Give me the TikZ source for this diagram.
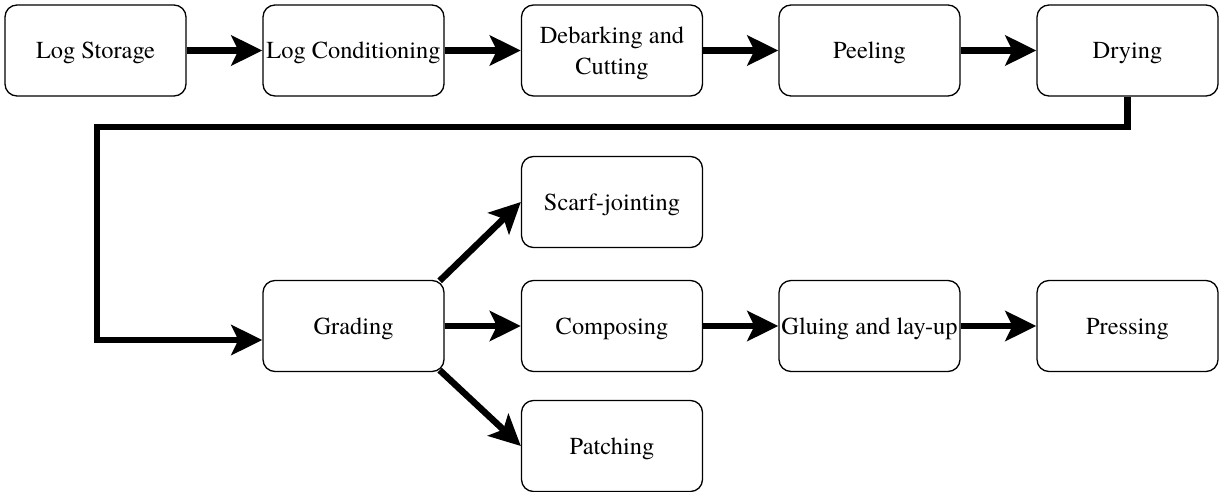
\documentclass[tikz,border=0pt]{standalone}
\usepackage{fontspec}
\newfontfamily\tms{TeX Gyre Termes}
\usetikzlibrary{arrows.meta}
\begin{document}
\begin{tikzpicture}[x=1pt,y=-1pt,
  box/.style={draw, line width=1.3pt, rounded corners=12pt, minimum width=181pt, minimum height=91pt, align=center, font=\tms\fontsize{24.4}{31}\selectfont, inner sep=0pt, text depth=0pt},
  arr/.style={line width=6.5pt, -{Stealth[length=31pt,width=30pt,inset=7pt]}, line join=miter}]
\useasboundingbox (0,0) rectangle (1225,492);
\node[box] (ls) at (95.5,50.5) {Log Storage};
\node[box] (lc) at (353.5,50.5) {Log Conditioning};
\node[box] (deb) at (612,50.5) {Debarking and\\Cutting};
\node[box] (peel) at (869.5,50.5) {Peeling};
\node[box] (dry) at (1127.5,50.5) {Drying};
\node[box] (grad) at (353.5,326) {Grading};
\node[box] (scarf) at (612,202) {Scarf-jointing};
\node[box] (comp) at (612,326) {Composing};
\node[box] (glue) at (869.5,326) {Gluing and lay-up};
\node[box] (press) at (1127.5,326) {Pressing};
\node[box] (patch) at (612,446) {Patching};
\coordinate (t1) at (97,127);
\coordinate (t2) at (97,340);
\draw[arr] (ls.east) -- (lc.west);
\draw[arr] (lc.east) -- (deb.west);
\draw[arr] (deb.east) -- (peel.west);
\draw[arr] (peel.east) -- (dry.west);
\draw[arr] (dry.south) |- (t1) -- (t2) -- (grad.west |- t2);
\draw[arr] ([shift={(-5,1)}]grad.north east) -- (scarf.west);
\draw[arr] (grad.east) -- (comp.west);
\draw[arr] ([shift={(-5,-2)}]grad.south east) -- (patch.west);
\draw[arr] (comp.east) -- (glue.west);
\draw[arr] (glue.east) -- (press.west);
\end{tikzpicture}
\end{document}
